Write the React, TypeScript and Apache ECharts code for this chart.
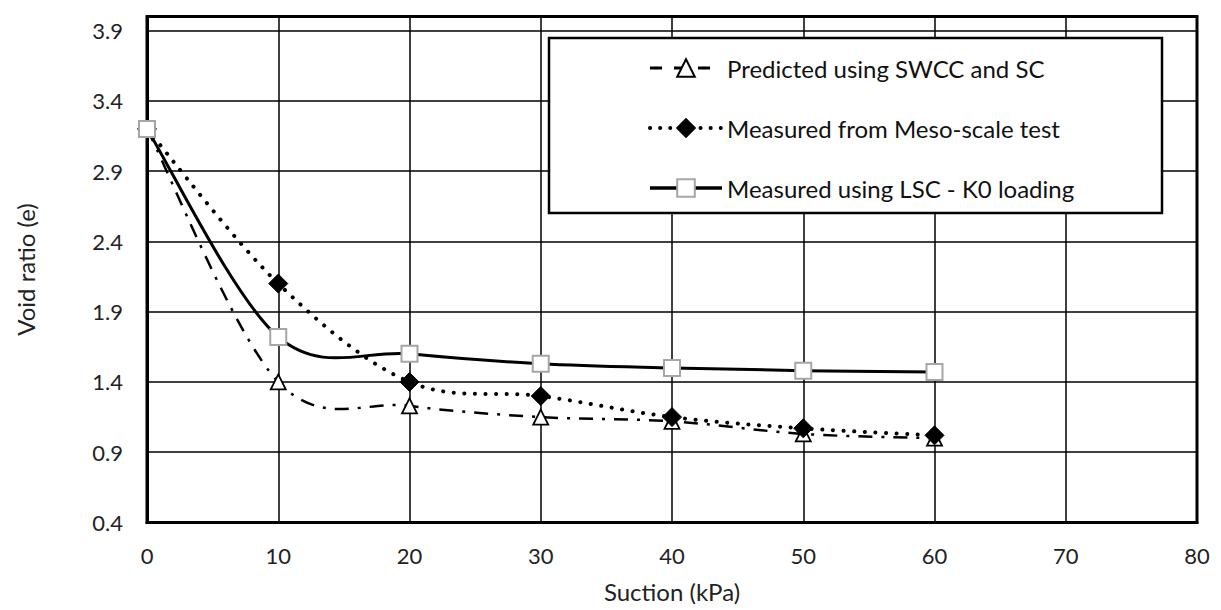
import React, { useEffect, useRef } from "react";
import * as echarts from "echarts";

const suction = [0, 10, 20, 30, 40, 50, 60];
const predicted = [3.2, 1.4, 1.23, 1.15, 1.12, 1.03, 1.0];
const meso = [3.2, 2.1, 1.4, 1.3, 1.15, 1.07, 1.02];
const lsc = [3.2, 1.72, 1.6, 1.53, 1.5, 1.48, 1.47];
const yTicks = [0.4, 0.9, 1.4, 1.9, 2.4, 2.9, 3.4, 3.9];
const seriesNames = [
  "Predicted using SWCC and SC",
  "Measured from Meso-scale test",
  "Measured using LSC - K0 loading",
];

const FONT = "Lato";

const dashDot = [14, 9, 3, 9];
const dotted = [0.1, 10.5];

function pairs(ys: number[]) {
  return suction.map((x, i) => [x, ys[i]]);
}

// Excel-like smoothed curve (Bezier with neighbour-based control points), in pixel space
function smoothCurve(ys: number[], style: any) {
  return (params: any, api: any) => {
    if (params.dataIndex !== 0) return null;
    const pts = suction.map((x, i) => api.coord([x, ys[i]]));
    const n = pts.length;
    let d = `M${pts[0][0]},${pts[0][1]}`;
    for (let i = 0; i < n - 1; i++) {
      const p0 = pts[Math.max(i - 1, 0)];
      const p1 = pts[i];
      const p2 = pts[i + 1];
      const p3 = pts[Math.min(i + 2, n - 1)];
      const c1x = p1[0] + (p2[0] - p0[0]) / 6;
      const c1y = p1[1] + (p2[1] - p0[1]) / 6;
      const c2x = p2[0] - (p3[0] - p1[0]) / 6;
      const c2y = p2[1] - (p3[1] - p1[1]) / 6;
      d += ` C${c1x},${c1y} ${c2x},${c2y} ${p2[0]},${p2[1]}`;
    }
    return {
      type: "path",
      shape: { pathData: d },
      style: { fill: "none", stroke: "#000", ...style },
      silent: true,
    };
  };
}

export default function App() {
  const ref = useRef<HTMLDivElement>(null);
  useEffect(() => {
    if (!ref.current) return;
    const chart = echarts.init(ref.current, null, { renderer: "svg" });
    chart.setOption({
      animation: false,
      textStyle: { fontFamily: FONT },
      grid: {
        left: 147,
        right: 24,
        top: 16.5,
        bottom: 87.5,
        show: true,
        borderColor: "#000",
        borderWidth: 3,
        backgroundColor: "transparent",
        outerBoundsMode: "none",
        containLabel: false,
      },
      xAxis: {
        type: "value",
        min: 0,
        max: 80,
        interval: 10,
        name: "Suction (kPa)",
        nameLocation: "middle",
        nameGap: 57,
        nameTextStyle: { fontFamily: FONT, fontSize: 24, color: "#222" },
        axisLine: { show: true, onZero: false, lineStyle: { color: "#000", width: 3 } },
        axisTick: { show: false },
        axisLabel: { fontFamily: FONT, fontSize: 22, color: "#222", margin: 22 },
        splitLine: { show: true, lineStyle: { color: "#000", width: 1.5 } },
      },
      yAxis: {
        type: "value",
        min: 0.4,
        max: 4.0,
        name: "Void ratio (e)",
        nameLocation: "middle",
        nameGap: 110,
        nameRotate: 90,
        nameTextStyle: { fontFamily: FONT, fontSize: 24, color: "#222" },
        axisLine: { show: true, onZero: false, lineStyle: { color: "#000", width: 3 } },
        axisTick: { show: false, customValues: yTicks },
        axisLabel: {
          fontFamily: FONT,
          fontSize: 22,
          color: "#222",
          margin: 24,
          customValues: yTicks,
          formatter: (v: number) => v.toFixed(1),
        },
        splitLine: { show: true, lineStyle: { color: "#000", width: 1.5 } },
      },
      legend: {
        orient: "vertical",
        left: 643,
        top: 51,
        itemWidth: 72,
        itemHeight: 22,
        itemGap: 36,
        z: 10,
        textStyle: { fontFamily: FONT, fontSize: 24, color: "#111" },
        data: [
          { name: seriesNames[0], lineStyle: { opacity: 1, color: "#000", width: 3, type: [12, 12] } },
          { name: seriesNames[1], lineStyle: { opacity: 1, color: "#000", width: 4, type: [0.1, 10], cap: "round" } },
          { name: seriesNames[2], lineStyle: { opacity: 1, color: "#000", width: 3.5, type: "solid" } },
        ],
      },
      graphic: [
        {
          type: "rect",
          shape: { x: 549, y: 38, width: 613, height: 175 },
          style: { fill: "#fff", stroke: "#000", lineWidth: 2.5 },
          z: 3,
        },
      ],
      series: [
        {
          type: "custom",
          data: [0],
          z: 2,
          renderItem: smoothCurve(predicted, { lineWidth: 2.5, lineDash: dashDot }),
        },
        {
          type: "custom",
          data: [0],
          z: 2,
          renderItem: smoothCurve(meso, { lineWidth: 4, lineDash: dotted, lineCap: "round" }),
        },
        {
          type: "custom",
          data: [0],
          z: 2,
          renderItem: smoothCurve(lsc, { lineWidth: 3 }),
        },
        {
          name: seriesNames[0],
          type: "line",
          data: pairs(predicted),
          symbol: "triangle",
          symbolSize: 15,
          lineStyle: { color: "#000", width: 3, opacity: 0 },
          itemStyle: { color: "#fff", borderColor: "#000", borderWidth: 1.8 },
          z: 4,
        },
        {
          name: seriesNames[1],
          type: "line",
          data: pairs(meso),
          symbol: "diamond",
          symbolSize: 19,
          lineStyle: { color: "#000", width: 4, opacity: 0 },
          itemStyle: { color: "#000", borderColor: "#000", borderWidth: 1 },
          z: 4,
        },
        {
          name: seriesNames[2],
          type: "line",
          data: pairs(lsc),
          symbol: "rect",
          symbolSize: 16,
          lineStyle: { color: "#000", width: 3.5, opacity: 0 },
          itemStyle: { color: "#fff", borderColor: "#a6a6a6", borderWidth: 2 },
          z: 4,
        },
      ],
    });
    return () => chart.dispose();
  }, []);
  return <div ref={ref} style={{ width: 1221, height: 610, position: "absolute", left: 0, top: 0 }} />;
}
